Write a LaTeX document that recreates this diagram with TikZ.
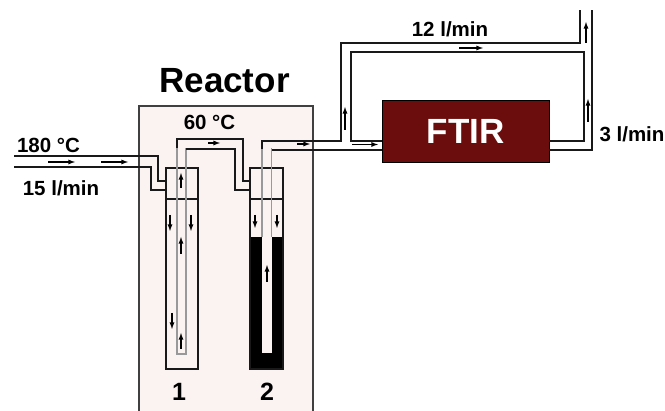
\documentclass[tikz,border=0pt]{standalone}
\usepackage{fontspec}
\setmainfont{Liberation Sans}
\usepackage{tikz}
\usetikzlibrary{arrows}
\definecolor{reactorpink}{RGB}{251,243,242}
\definecolor{ftirred}{RGB}{107,13,13}
\tikzset{
  pipe/.style={line width=1.7pt, black!90},
  tube/.style={line width=1.2pt, black!40},
  vessel/.style={line width=1.4pt, black!90},
  flow/.style={-latex, line width=1.25pt, black},
  lbl/.style={font=\fontsize{20.5}{22}\selectfont\bfseries}
}
\begin{document}
\begin{tikzpicture}[x=1pt,y=-1pt]
\useasboundingbox (0,0) rectangle (665,411);

% reactor
\fill[reactorpink] (139,106) rectangle (313,411);
\draw[line width=1.3pt, black!75] (139,411) -- (139,106) -- (313,106) -- (313,411);
\node[font=\fontsize{35}{37}\selectfont\bfseries] (reactor) at (224.5,81) {Reactor};

% vessel 1
\draw[vessel] (166,168) rectangle (198,369);
\draw[vessel] (166,199) -- (198,199);
\draw[tube] (177,148) -- (177,354) -- (186,354) -- (186,148);

% vessel 2
\fill[black] (250,237) rectangle (283,369);
\fill[reactorpink] (262,237) rectangle (271.5,353);
\draw[vessel] (250,168) rectangle (283,369);
\draw[vessel] (250,199) -- (283,199);
\draw[tube] (262,148) -- (262,237);
\draw[tube] (271.5,148) -- (271.5,237);

% FTIR
\node[draw=black, fill=ftirred, text=white, minimum width=167pt, minimum height=62pt,
  inner sep=0pt, font=\fontsize{35}{37}\selectfont\bfseries] (ftir) at (465.5,131) {FTIR};

% pipes
\draw[pipe] (14,156) -- (158,156) -- (158,181) -- (166,181);
\draw[pipe] (14,167) -- (151,167) -- (151,190) -- (166,190);
\draw[pipe] (177,148) -- (177,139) -- (243,139) -- (243,181) -- (250,181);
\draw[pipe] (186,149) -- (235,149) -- (235,190) -- (250,190);
\draw[pipe] (262,149) -- (262,141) -- (341,141) -- (341,43) -- (580,43) -- (580,10);
\draw[pipe] (271.5,150) -- (ftir.west |- 0,150);
\draw[pipe] (ftir.west |- 0,141) -- (351,141) -- (351,52) -- (584,52) -- (584,141) -- (ftir.east |- 0,141);
\draw[pipe] (ftir.east |- 0,150) -- (592,150) -- (592,10);

% flow directions
\foreach \xa/\ya/\xb/\yb in {48/162/75/162, 101/162/128/162, 208/143/220/143, 297/144/310/144,
  352/144.5/378/144.5, 459/48/483/48,
  181/188/181/173, 181/254/181/237, 181/349/181/333, 267/282/267/265,
  345/130/345/107, 588/122/588/99, 586/43/586/22,
  170/215/170/231, 191/215/191/231, 172/313/172/329, 255/215/255/228, 277/215/277/228}{
  \draw[flow] (\xa,\ya) -- (\xb,\yb);
}

% labels
\node[lbl] (tin) at (48.5,145) {180 °C};
\node[lbl] (qin) at (61,188) {15 l/min};
\node[lbl] (tout) at (209.5,122) {60 °C};
\node[lbl] (qby) at (450,29) {12 l/min};
\node[lbl] (qftir) at (632,134) {3 l/min};
\node[font=\fontsize{25}{27}\selectfont\bfseries] (vone) at (179,392) {1};
\node[font=\fontsize{25}{27}\selectfont\bfseries] (vtwo) at (267,392) {2};
\end{tikzpicture}
\end{document}
